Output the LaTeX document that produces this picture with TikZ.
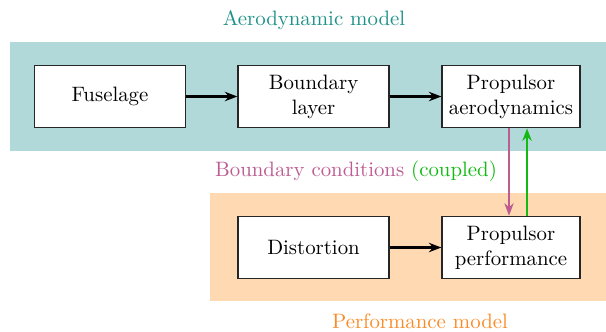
\documentclass[tikz,border=0pt]{standalone}
\usetikzlibrary{arrows.meta}
\definecolor{bcpink}{RGB}{188,92,145}
\definecolor{cpgreen}{RGB}{20,185,20}
\definecolor{aerotxt}{RGB}{30,145,135}
\definecolor{perftxt}{RGB}{250,140,40}
\begin{document}
\begin{tikzpicture}[x=0.48pt,y=-0.48pt,
  blockbox/.style={draw=black!85,fill=white,line width=0.6pt,minimum width=72.5pt,minimum height=30pt,align=center,inner xsep=0pt,inner ysep=2pt},
  narrowbox/.style={blockbox,minimum width=66.2pt},
  flowarrow/.style={-{Stealth[length=6pt,width=4.5pt]},line width=1pt}]
\useasboundingbox (0,0) rectangle (606,331);
\fill[teal!30] (10,42) rectangle (606,150.5);
\fill[orange!30] (210,193) rectangle (606,301);
\node[text=aerotxt] (aerolbl) at (314,20) {Aerodynamic model};
\node[text=perftxt] (perflbl) at (420,321) {Performance model};
\node (bclbl) at (356,171) {\textcolor{bcpink}{Boundary conditions} \textcolor{cpgreen}{(coupled)}};
\node[blockbox] (fus) at (110,96.5) {Fuselage};
\node[blockbox] (bl) at (313.5,96.5) {Boundary\\layer};
\node[narrowbox] (pa) at (511,96.5) {Propulsor\\aerodynamics};
\node[blockbox] (dist) at (313.5,247.5) {Distortion};
\node[narrowbox] (pp) at (511,247.5) {Propulsor\\performance};
\draw[flowarrow] (fus) -- (bl);
\draw[flowarrow] (bl) -- (pa);
\draw[flowarrow] (dist) -- (pp);
\draw[-{Stealth[length=6pt,width=4.5pt]},bcpink,line width=0.6pt] ([xshift=-0.96pt]pa.south) -- ([xshift=-0.96pt]pp.north);
\draw[-{Stealth[length=6pt,width=4.5pt]},cpgreen,line width=1pt] ([xshift=7.7pt]pp.north) -- ([xshift=7.7pt]pa.south);
\end{tikzpicture}
\end{document}
